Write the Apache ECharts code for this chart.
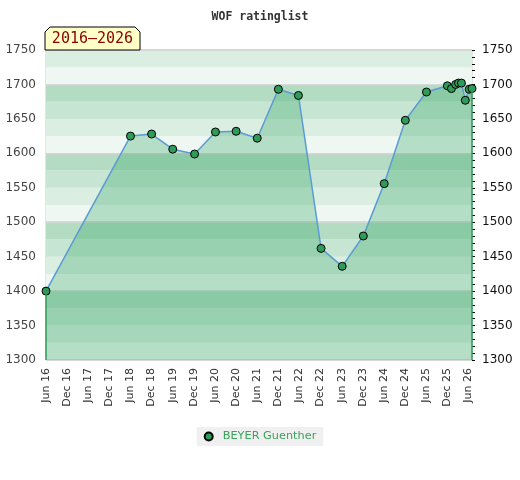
<!DOCTYPE html>
<html>
<head>
<meta charset="utf-8">
<script src="https://cdn.jsdelivr.net/npm/echarts@6/dist/echarts.min.js"></script>
<style>html,body{margin:0;padding:0;background:#fff}#c{width:520px;height:480px}</style>
</head>
<body>
<div id="c"></div>
<script>
const chartTitle = 'WOF ratinglist';
const periodLabel = '2016\u20132026';
const playerName = 'BEYER Guenther';
const dates = ['2016-06-01','2018-06-01','2018-12-01','2019-06-01','2019-12-07','2020-06-05','2020-12-01','2021-06-01','2021-12-01','2022-05-22','2022-12-05','2023-06-05','2023-12-05','2024-06-03','2024-12-03','2025-06-03','2025-12-01','2026-01-06','2026-02-12','2026-03-06','2026-04-01','2026-05-04','2026-06-07','2026-07-01'];
const ratings = [1400,1625,1628,1606,1599,1631,1632,1622,1693,1684,1462,1436,1480,1556,1648,1689,1698,1694,1700,1702,1702,1677,1693,1694];
const xTickLabels = ['Jun 16','Dec 16','Jun 17','Dec 17','Jun 18','Dec 18','Jun 19','Dec 19','Jun 20','Dec 20','Jun 21','Dec 21','Jun 22','Dec 22','Jun 23','Dec 23','Jun 24','Dec 24','Jun 25','Dec 25','Jun 26'];
const yMin = 1300, yMax = 1750;

function monthsSince(s){
  const p = s.split('-').map(Number);
  return (p[0]-2016)*12 + (p[1]-6) + (p[2]-1)/30;
}
const points = dates.map((d,i)=>[monthsSince(d), ratings[i]]);
const x0 = points[0][0], xN = points[points.length-1][0];

const chart = echarts.init(document.getElementById('c'), null, {renderer:'canvas'});
const bandAxis = {
  type:'value', min:yMin, max:yMax, position:'left',
  axisLine:{show:false}, axisTick:{show:false}, axisLabel:{show:false},
  splitLine:{show:false}
};
const plain = v => String(v);
chart.setOption({
  animation:false,
  backgroundColor:'#fff',
  title:{
    text:chartTitle, left:'center', top:6,
    textStyle:{fontFamily:'DejaVu Sans Mono', fontWeight:'bold', fontSize:11.5, color:'#333'}
  },
  graphic:[
    {type:'polygon', z:100, shape:{points:[[45,50],[45,32],[50,27],[135,27],[140,32],[140,50]]},
     style:{fill:'#ffffc8', stroke:'#000', lineWidth:1}},
    {type:'text', z:101, x:92.5, y:39,
     style:{text:periodLabel, fill:'#8b0000', font:'15px "DejaVu Sans Mono"', align:'center', verticalAlign:'middle'}}
  ],
  legend:{
    bottom:34, left:'center',
    data:[playerName],
    icon:'circle', itemWidth:8, itemHeight:8,
    backgroundColor:'#f0f0f0', padding:[4,7],
    textStyle:{color:'#3aa35d', fontSize:11.3, fontFamily:'DejaVu Sans', padding:[0,0,0,5]}
  },
  grid:{left:46, right:48, top:50, bottom:120, show:true, borderColor:'#cccccc', borderWidth:1, backgroundColor:'transparent'},
  xAxis:{
    type:'value', min:0, max:121, interval:6,
    axisLine:{show:false}, axisTick:{show:false}, splitLine:{show:false},
    axisLabel:{
      rotate:90, margin:8, fontSize:11, color:'#333', fontFamily:'DejaVu Sans',
      formatter:function(v){ if (Math.abs(v%6)>1e-6) return ''; const i=Math.round(v/6); return xTickLabels[i]||''; }
    }
  },
  yAxis:[
    {type:'value', min:yMin, max:yMax, interval:50, position:'left',
     axisLine:{show:false}, axisTick:{show:false}, splitLine:{show:false},
     axisLabel:{margin:10, fontSize:12, color:'#444', fontFamily:'DejaVu Sans', formatter:plain}},
    {type:'value', min:yMin, max:yMax, interval:50, position:'right',
     axisLine:{show:false},
     axisTick:{show:true, inside:false, length:3, lineStyle:{color:'#000'}},
     minorTick:{show:true, splitNumber:5, length:3, lineStyle:{color:'#000'}},
     splitLine:{show:false},
     axisLabel:{margin:10, fontSize:12, color:'#111', fontFamily:'DejaVu Sans', formatter:plain}},
    Object.assign({}, bandAxis, {interval:25,
      splitArea:{show:true, areaStyle:{color:['#eef7f2','#dbeee2','#c7e5d3','#b3dcc3']}}}),
    Object.assign({}, bandAxis, {interval:100,
      splitLine:{show:true, lineStyle:{color:'#d2d2d2', width:1.5}}})
  ],
  series:[{
    name:playerName, type:'line', yAxisIndex:0,
    data:points,
    symbol:'circle', symbolSize:8,
    itemStyle:{color:'#2e9b58', borderColor:'#000', borderWidth:1},
    lineStyle:{color:'#5b9bd5', width:1.5},
    areaStyle:{color:'rgba(34,158,85,0.4)', origin:'start'},
    clip:false,
    markLine:{
      silent:true, symbol:'none', label:{show:false},
      lineStyle:{color:'#2e9b58', width:1.5, type:'solid'},
      data:[
        [{coord:[x0,yMin]},{coord:[x0,ratings[0]]}],
        [{coord:[xN,yMin]},{coord:[xN,ratings[ratings.length-1]]}]
      ]
    }
  }]
});
</script>
</body>
</html>
